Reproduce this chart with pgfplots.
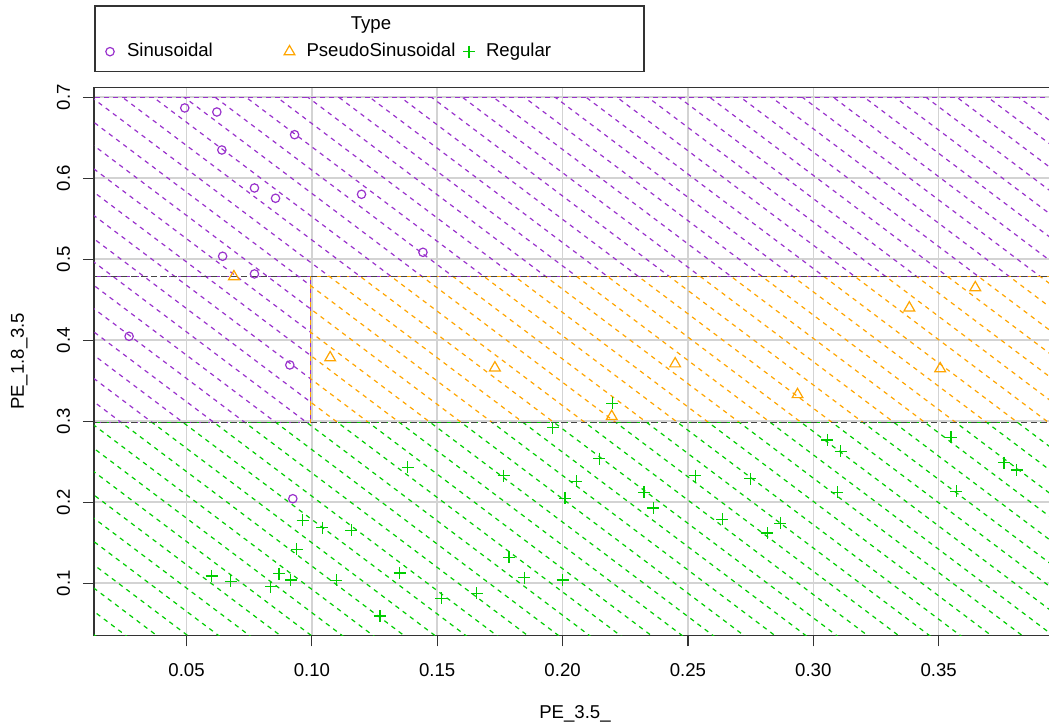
\documentclass[border=0pt]{standalone}
\usepackage{pgfplots}
\pgfplotsset{compat=1.18}
\usepackage{fontspec}
\setmainfont{Liberation Sans}
\usetikzlibrary{patterns.meta}

\definecolor{purp}{HTML}{9932CC}
\definecolor{orng}{HTML}{FFA500}
\definecolor{grn}{HTML}{00CD00}
\definecolor{gridc}{HTML}{D3D3D3}
\definecolor{bord}{HTML}{333333}
\definecolor{sepc}{HTML}{444444}

% dashed diagonal hatching, like R's rect(density=...)
\tikzdeclarepattern{
  name=dhatch,
  type=uncolored,
  bounding box={(0pt,-4.65pt) and (4.5pt,4.65pt)},
  tile size={(4.5pt,9.3pt)},
  tile transformation={rotate=-37},
  code={
    \pgfsetlinewidth{0.6pt}
    \pgfsetdash{{2.2pt}{2.3pt}}{0pt}
    \pgfpathmoveto{\pgfqpoint{0pt}{0pt}}
    \pgfpathlineto{\pgfqpoint{4.5pt}{0pt}}
    \pgfusepath{stroke}
  }
}

\pgfplotsset{
  legimg/.style={legend image code/.code={%
    \path[draw=none, fill=none] (-3pt,-3pt) rectangle (3pt,3pt);
    \draw[##1] plot coordinates {(0pt,0pt)};}},
  region/.style={forget plot, line width=0.55pt, dash pattern=on 2.5pt off 2pt,
    draw=#1, pattern=dhatch, pattern color=#1},
}

\begin{document}
\begin{tikzpicture}[font=\fontsize{9.3}{11}\selectfont]
\begin{axis}[
  scale only axis,
  width=481pt, height=274pt,
  xmin=0.0131, xmax=0.3968,
  ymin=0.0358, ymax=0.7123,
  xtick={0.05,0.10,0.15,0.20,0.25,0.30,0.35},
  xticklabels={0.05,0.10,0.15,0.20,0.25,0.30,0.35},
  ytick={0.1,0.2,0.3,0.4,0.5,0.6,0.7},
  yticklabels={0.1,0.2,0.3,0.4,0.5,0.6,0.7},
  xticklabel style={anchor=base, yshift=-15.3pt},
  yticklabel style={rotate=90, anchor=base, yshift=6.5pt},
  grid=major,
  grid style={gridc, line width=0.8pt},
  tick align=outside, tick pos=left,
  major tick length=5.5pt,
  tick style={bord, line width=0.6pt},
  axis line style={bord, line width=0.6pt},
  xlabel={PE\_3.5\_},
  ylabel={PE\_1.8\_3.5},
  xlabel style={at={(axis description cs:0.5,-0.1527)}, anchor=base},
  ylabel style={at={(axis description cs:-0.0728,0.5)}, anchor=base},
  legend columns=3,
  legend cell align=left,
  legend style={at={(axis description cs:0.0104,1.065)}, anchor=west,
    draw=none, fill=none, inner sep=0pt, outer sep=0pt,
    nodes={inner sep=0pt},
    /tikz/every odd column/.append style={column sep=5.5pt},
    /tikz/every even column/.append style={column sep=5.75pt}},
]

% classification regions
\addplot[region=purp] coordinates {(0,0.4785) (0.41,0.4785) (0.41,0.70) (0,0.70)} -- cycle;
\addplot[region=purp] coordinates {(0,0.2983) (0.0995,0.2983) (0.0995,0.4785) (0,0.4785)} -- cycle;
\addplot[region=orng] coordinates {(0.0995,0.2983) (0.41,0.2983) (0.41,0.4785) (0.0995,0.4785)} -- cycle;
\addplot[region=grn] coordinates {(0,0) (0.41,0) (0.41,0.2983) (0,0.2983)} -- cycle;

% thresholds
\addplot[forget plot, sepc, line width=0.8pt, dash pattern=on 3pt off 2pt] coordinates {(0,0.4785) (0.41,0.4785)};
\addplot[forget plot, sepc, line width=0.8pt, dash pattern=on 3pt off 2pt] coordinates {(0,0.2983) (0.41,0.2983)};

\addplot[only marks, mark=o, purp, mark size=2.1pt, line width=0.6pt, legimg] coordinates {
(0.0493,0.6868) (0.0621,0.6818) (0.0641,0.6349) (0.0931,0.6538)
(0.0771,0.5880) (0.0855,0.5753) (0.1198,0.5802) (0.0644,0.5037)
(0.0771,0.4819) (0.1443,0.5086) (0.0271,0.4049) (0.0912,0.3695)
(0.0924,0.2044)
};
\addlegendentry{\makebox[72.5pt][l]{\raisebox{0pt}[6.8pt][0pt]{Sinusoidal}}}

\addplot[only marks, mark=triangle, orng, mark size=3.1pt, line width=0.6pt, legimg] coordinates {
(0.0689,0.4785) (0.1073,0.3785) (0.1730,0.3660) (0.2449,0.3710)
(0.3383,0.4400) (0.3646,0.4650) (0.3506,0.3650) (0.2937,0.3330)
(0.2196,0.3060)
};
\addlegendentry{\makebox[72.5pt][l]{\raisebox{0pt}[6.8pt][0pt]{PseudoSinusoidal}}}

\addplot[only marks, mark=+, grn, mark size=3pt, line width=0.65pt, legimg] coordinates {
(0.1382,0.2432) (0.0963,0.1778) (0.1041,0.1686) (0.1158,0.1654)
(0.0939,0.1420) (0.0600,0.1091) (0.0676,0.1025) (0.0869,0.1119)
(0.0836,0.0958) (0.0916,0.1041) (0.1097,0.1037) (0.1350,0.1127)
(0.1272,0.0596) (0.1517,0.0815) (0.1657,0.0877)
(0.2198,0.3220) (0.1961,0.2920) (0.1765,0.2330) (0.2146,0.2540)
(0.2055,0.2260) (0.2010,0.2050) (0.2325,0.2124) (0.2362,0.1930)
(0.2530,0.2330) (0.2749,0.2290) (0.2637,0.1790) (0.2816,0.1620)
(0.2869,0.1740) (0.3056,0.2770) (0.3109,0.2630) (0.3096,0.2124)
(0.3549,0.2800) (0.3571,0.2137) (0.3761,0.2490) (0.3811,0.2400)
(0.1786,0.1320) (0.1848,0.1070) (0.2000,0.1040)
};
\addlegendentry{\makebox[72.5pt][l]{\raisebox{0pt}[6.8pt][0pt]{Regular}}}

\coordinate (SW) at (rel axis cs:0,0);
\end{axis}

% legend frame and title
\draw[bord, line width=0.6pt] ([shift={(0.5pt,281.8pt)}]SW) rectangle ([shift={(275pt,314.65pt)}]SW);
\node[anchor=base, inner sep=0pt] at ([shift={(138.5pt,302.8pt)}]SW) {Type};

% the reference is cut just before the right edge of the plot box
\pgfresetboundingbox
\useasboundingbox ([shift={(-47pt,-45.85pt)}]SW) rectangle ([shift={(477.5pt,317.65pt)}]SW);
\end{tikzpicture}
\end{document}
